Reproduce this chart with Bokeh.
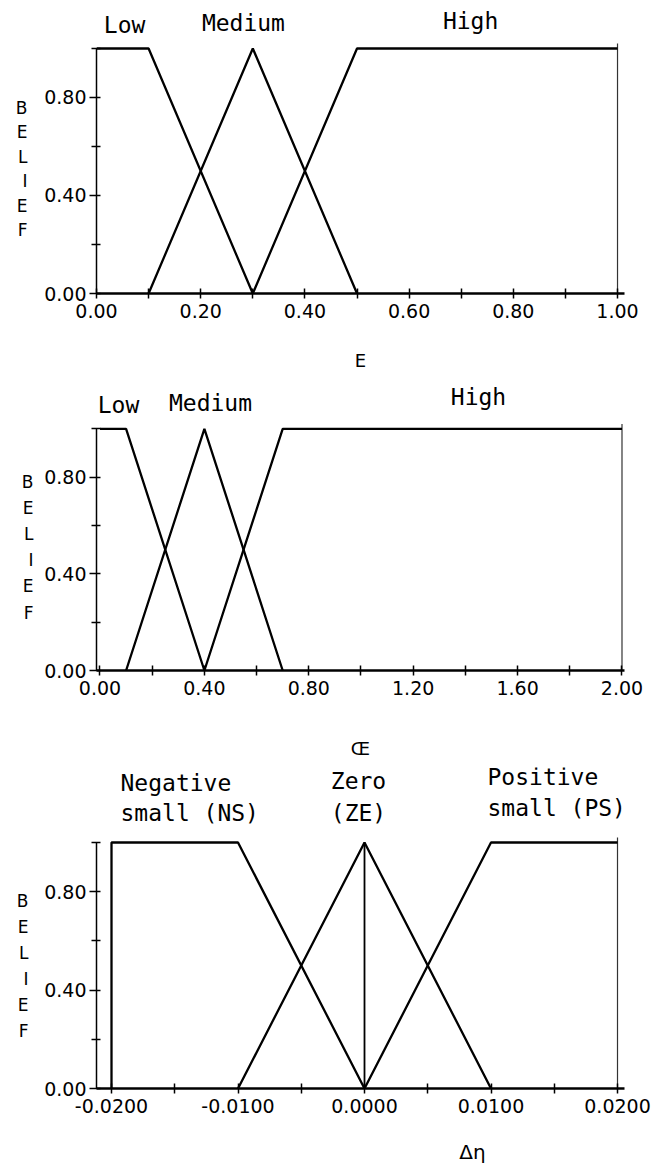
from bokeh.plotting import figure
from bokeh.models import Range1d, FixedTicker, NumeralTickFormatter, LinearAxis, Label
from bokeh.layouts import column
from bokeh.embed import file_html
from bokeh.resources import INLINE

# ---------------- data ----------------
# Panel 1: E
e_low_x = [0.0, 0.1, 0.3]
e_low_y = [1.0, 1.0, 0.0]
e_med_x = [0.1, 0.3, 0.5]
e_med_y = [0.0, 1.0, 0.0]
e_high_x = [0.3, 0.5, 1.0]
e_high_y = [0.0, 1.0, 1.0]
e_xticks = [0.0, 0.2, 0.4, 0.6, 0.8, 1.0]
e_xminor = [0.1, 0.3, 0.5, 0.7, 0.9]

# Panel 2: CE
ce_low_x = [0.0, 0.1, 0.4]
ce_low_y = [1.0, 1.0, 0.0]
ce_med_x = [0.1, 0.4, 0.7]
ce_med_y = [0.0, 1.0, 0.0]
ce_high_x = [0.4, 0.7, 2.0]
ce_high_y = [0.0, 1.0, 1.0]
ce_xticks = [0.0, 0.4, 0.8, 1.2, 1.6, 2.0]
ce_xminor = [0.2, 0.6, 1.0, 1.4, 1.8]

# Panel 3: delta eta
ns_x = [-0.02, -0.02, -0.01, 0.0]
ns_y = [0.0, 1.0, 1.0, 0.0]
ze_x = [-0.01, 0.0, 0.01]
ze_y = [0.0, 1.0, 0.0]
ze_stem_x = [0.0, 0.0]
ze_stem_y = [0.0, 1.0]
ps_x = [0.0, 0.01, 0.02]
ps_y = [0.0, 1.0, 1.0]
dn_xticks = [-0.02, -0.01, 0.0, 0.01, 0.02]
dn_xminor = [-0.015, -0.005, 0.005, 0.015]

y_ticks = [0.0, 0.4, 0.8]
y_minor = [0.2, 0.6, 1.0]
belief_letters = ["B", "E", "L", "I", "E", "F"]

# ---------------- styles ----------------
TICK_FONT = "DejaVu Sans"
TICK_SIZE = "19px"
MONO = "DejaVu Sans Mono"
MONO_SIZE = "23px"
W = 659
MBL = 96
MBR = 35


def make_fig(xr, yr, height, mbt, mbb, xticks, xminor, xfmt,
             xlabel, xlabel_standoff, belief_top, belief_step, belief_standoff):
    p = figure(width=W, height=height, x_range=Range1d(*xr), y_range=Range1d(*yr),
               output_backend="svg", toolbar_location=None,
               min_border_left=MBL, min_border_right=MBR,
               min_border_top=mbt, min_border_bottom=mbb)
    p.outline_line_color = None
    p.grid.visible = False
    p.background_fill_color = "white"
    p.border_fill_color = "white"

    xa = p.xaxis[0]
    xa.ticker = FixedTicker(ticks=xticks, minor_ticks=xminor)
    xa.formatter = NumeralTickFormatter(format=xfmt)
    xa.axis_line_width = 2.5
    xa.axis_line_color = "black"
    xa.major_tick_in = 5
    xa.major_tick_out = 5
    xa.minor_tick_in = 5
    xa.minor_tick_out = 5
    xa.major_tick_line_width = 1.5
    xa.minor_tick_line_width = 1.5
    xa.major_label_standoff = 5
    xa.major_label_text_font = TICK_FONT
    xa.major_label_text_font_size = TICK_SIZE
    xa.major_label_text_color = "black"
    if xlabel:
        xa.axis_label = xlabel
        xa.axis_label_standoff = xlabel_standoff
        xa.axis_label_text_font = "DejaVu Sans"
        xa.axis_label_text_font_size = "18px"
        xa.axis_label_text_font_style = "normal"
        xa.axis_label_text_color = "black"

    ya = p.yaxis[0]
    ya.ticker = FixedTicker(ticks=y_ticks, minor_ticks=y_minor)
    ya.formatter = NumeralTickFormatter(format="0.00")
    ya.bounds = (0, 1.0)
    ya.axis_line_width = 1.5
    ya.axis_line_color = "black"
    ya.major_tick_in = 4
    ya.major_tick_out = 7
    ya.minor_tick_in = 4
    ya.minor_tick_out = 5
    ya.major_tick_line_width = 1.5
    ya.minor_tick_line_width = 1.5
    ya.major_label_standoff = 3
    ya.major_label_text_font = TICK_FONT
    ya.major_label_text_font_size = TICK_SIZE
    ya.major_label_text_color = "black"

    # helper axis that carries the stacked "B E L I E F" letters
    pos = [round(belief_top - belief_step * i, 4) for i in range(len(belief_letters))]
    ba = LinearAxis(ticker=FixedTicker(ticks=pos),
                    major_label_overrides={v: ch for v, ch in zip(pos, belief_letters)},
                    axis_line_color=None, major_tick_line_color=None,
                    minor_tick_line_color=None, major_label_standoff=belief_standoff,
                    major_label_text_font="DejaVu Sans", major_label_text_font_size="17px",
                    major_label_text_color="black")
    p.add_layout(ba, "left")

    # right-hand border line at the end of the x scale
    xend = xticks[-1]
    p.segment(x0=[xend], y0=[0.0], x1=[xend], y1=[1.02], line_width=1.2, color="#333333")
    return p


def add_label(p, x, y, text, align="center"):
    p.add_layout(Label(x=x, y=y, text=text, text_font=MONO, text_font_size=MONO_SIZE,
                       text_align=align, text_baseline="middle", text_color="black"))


LW = 2.3

# ---------------- panel 1 ----------------
p1 = make_fig((0.0, 1.0134), (0.0, 1.155), 375, 10, 82,
              e_xticks, e_xminor, "0.00", "E", 29, 0.759, 0.1, 8)
p1.line(e_low_x, e_low_y, line_width=LW, color="black")
p1.line(e_med_x, e_med_y, line_width=LW, color="black")
p1.line(e_high_x, e_high_y, line_width=LW, color="black")
add_label(p1, 0.054, 1.094, "Low")
add_label(p1, 0.282, 1.102, "Medium")
add_label(p1, 0.718, 1.114, "High")

# ---------------- panel 2 ----------------
p2 = make_fig((-0.0134, 2.0096), (0.0, 1.2), 386, 5, 87,
              ce_xticks, ce_xminor, "0.00", "Œ", 40, 0.78, 0.108, 2)
p2.line(ce_low_x, ce_low_y, line_width=LW, color="black")
p2.line(ce_med_x, ce_med_y, line_width=LW, color="black")
p2.line(ce_high_x, ce_high_y, line_width=LW, color="black")
add_label(p2, 0.0709, 1.098, "Low")
add_label(p2, 0.4234, 1.106, "Medium")
add_label(p2, 1.4502, 1.131, "High")

# ---------------- panel 3 ----------------
p3 = make_fig((-0.021186, 0.020553), (0.0, 1.305), 407, 6, 80,
              dn_xticks, dn_xminor, "0.0000", None, 0, 0.764, 0.106, 7)
p3.line(ns_x, ns_y, line_width=LW, color="black")
p3.line(ze_x, ze_y, line_width=LW, color="black")
p3.line(ze_stem_x, ze_stem_y, line_width=1.8, color="black")
p3.line(ps_x, ps_y, line_width=LW, color="black")
add_label(p3, -0.019289, 1.240, "Negative", align="left")
add_label(p3, -0.019289, 1.118, "small (NS)", align="left")
add_label(p3, -0.000474, 1.252, "Zero")
add_label(p3, -0.000474, 1.122, "(ZE)")
add_label(p3, 0.009723, 1.268, "Positive", align="left")
add_label(p3, 0.009723, 1.142, "small (PS)", align="left")

# helper axis that carries the off-centre "Δη" label
dn_lab = 0.00854
dn_label_axis = LinearAxis(ticker=FixedTicker(ticks=[dn_lab]),
                           major_label_overrides={dn_lab: "Δη"},
                           axis_line_color=None, major_tick_line_color=None,
                           minor_tick_line_color=None, major_label_standoff=18,
                           major_label_text_font="DejaVu Sans",
                           major_label_text_font_size="20px",
                           major_label_text_color="black")
p3.add_layout(dn_label_axis, "below")

layout = column(p1, p2, p3, spacing=0)
open("out.html", "w").write(file_html(layout, INLINE))
